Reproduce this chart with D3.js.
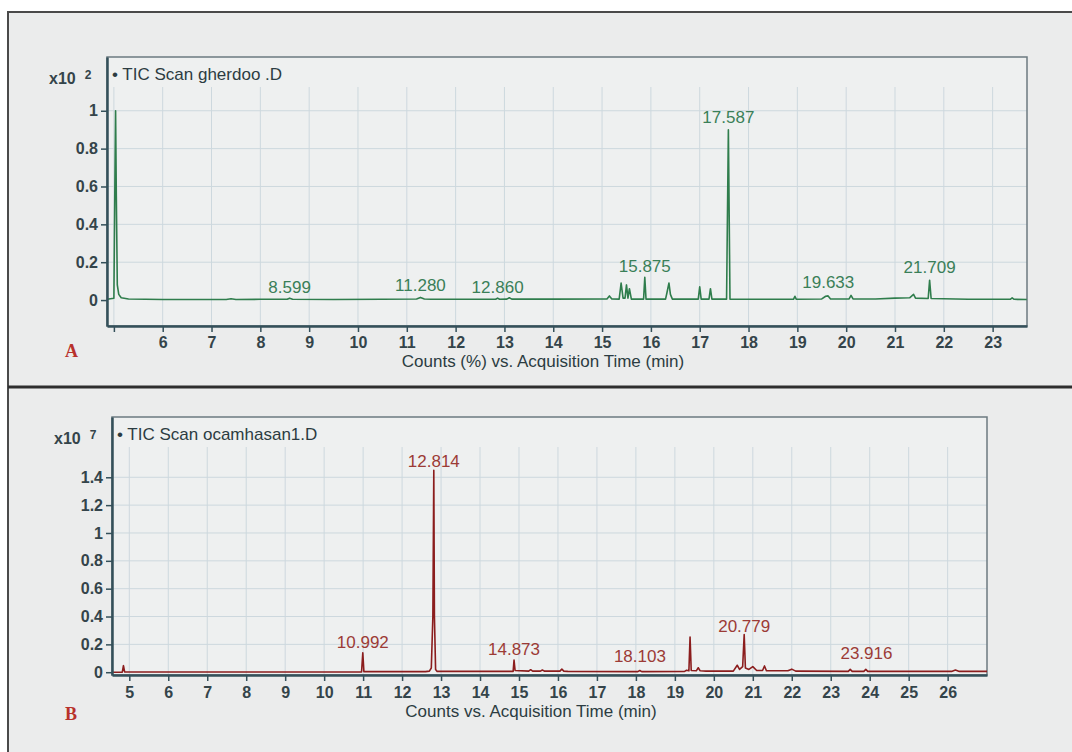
<!DOCTYPE html>
<html lang="en">
<head>
  <meta charset="UTF-8">
  <title>TIC Scan chromatograms</title>
  <script src="https://d3js.org/d3.v7.min.js"></script>
  <style>
    body { margin: 0; background: #fff; }
    svg { display: block; font-family: "Liberation Sans", Arial, sans-serif; }
    .grid line { stroke: #cdd8de; stroke-width: 1; }
    .axis path, .axis line { stroke: #34505a; }
  </style>
</head>
<body>
<svg width="1072" height="752"></svg>
<script>
// Panel A - TIC Scan gherdoo .D (x10^2)
const topTime = [4.86, 5.00, 5.02, 5.035, 5.05, 5.07, 5.10, 5.15, 5.30, 6.00, 7.30, 7.40, 7.50, 8.00, 8.55, 8.60, 8.66, 9.50,
  10.50, 11.20, 11.28, 11.36, 11.50, 12.30, 12.82, 12.86, 12.90, 13.05, 13.10, 13.15, 14.00, 15.10, 15.15, 15.20,
  15.35, 15.39, 15.43, 15.47, 15.50, 15.53, 15.56, 15.60, 15.85, 15.875, 15.90, 16.30, 16.33, 16.37, 16.40, 16.44,
  16.97, 17.00, 17.03, 17.19, 17.22, 17.25, 17.55, 17.587, 17.62, 18.92, 18.95, 18.98, 19.50, 19.58, 19.63, 19.68,
  20.06, 20.10, 20.14, 20.60, 21.00, 21.30, 21.38, 21.42, 21.68, 21.709, 21.74, 22.50, 23.36, 23.40, 23.44, 23.70];
const topCounts = [0.004, 0.010, 0.60, 1.00, 0.55, 0.08, 0.030, 0.012, 0.006, 0.003, 0.003, 0.007, 0.003, 0.004, 0.004, 0.010, 0.004, 0.003,
  0.004, 0.006, 0.014, 0.006, 0.004, 0.004, 0.004, 0.010, 0.004, 0.005, 0.012, 0.005, 0.005, 0.006, 0.022, 0.006,
  0.005, 0.090, 0.010, 0.010, 0.080, 0.010, 0.060, 0.005, 0.005, 0.120, 0.005, 0.005, 0.040, 0.090, 0.030, 0.005,
  0.005, 0.070, 0.005, 0.005, 0.060, 0.005, 0.005, 0.900, 0.005, 0.004, 0.020, 0.004, 0.006, 0.020, 0.022, 0.006,
  0.006, 0.025, 0.006, 0.006, 0.010, 0.012, 0.030, 0.010, 0.008, 0.105, 0.008, 0.004, 0.004, 0.012, 0.004, 0.003];
const topLabelTimes = [8.599, 11.280, 12.860, 15.875, 17.587, 19.633, 21.709];
const topLabelLevels = [0.037, 0.048, 0.037, 0.148, 0.935, 0.063, 0.143];
const topXTicks = d3.range(5, 24);
const topYTicks = [0, 0.2, 0.4, 0.6, 0.8, 1];

// Panel B - TIC Scan ocamhasan1.D (x10^7)
const botTime = [4.56, 4.82, 4.85, 4.88, 10.96, 10.992, 11.02, 12.60, 12.70, 12.75, 12.79, 12.814, 12.83, 12.86, 12.90,
  14.00, 14.85, 14.873, 14.90, 15.25, 15.30, 15.35, 15.55, 15.60, 15.65, 16.05, 16.10, 16.15, 16.25, 18.05, 18.10,
  18.15, 19.25, 19.30, 19.36, 19.39, 19.42, 19.55, 19.60, 19.65, 19.80, 20.50, 20.60, 20.66, 20.74, 20.779, 20.81,
  20.90, 21.00, 21.10, 21.25, 21.30, 21.35, 21.90, 22.00, 22.10, 23.45, 23.50, 23.55, 23.85, 23.90, 23.95, 26.10,
  26.20, 26.30, 27.01];
const botCounts = [0.000, 0.000, 0.047, 0.002, 0.002, 0.140, 0.004, 0.004, 0.008, 0.030, 0.400, 1.450, 0.400, 0.020, 0.006,
  0.006, 0.006, 0.088, 0.012, 0.008, 0.018, 0.008, 0.008, 0.016, 0.008, 0.008, 0.022, 0.008, 0.006, 0.004, 0.012,
  0.004, 0.006, 0.014, 0.010, 0.253, 0.012, 0.010, 0.032, 0.010, 0.008, 0.008, 0.050, 0.020, 0.040, 0.270, 0.030,
  0.020, 0.040, 0.012, 0.012, 0.045, 0.010, 0.010, 0.022, 0.008, 0.006, 0.020, 0.006, 0.006, 0.020, 0.006, 0.006,
  0.016, 0.006, 0.006];
const botLabelTimes = [10.992, 12.814, 14.873, 18.103, 20.779, 23.916];
const botLabelLevels = [0.174, 1.474, 0.124, 0.074, 0.289, 0.095];
const botXTicks = d3.range(5, 27);
const botYTicks = [0, 0.2, 0.4, 0.6, 0.8, 1, 1.2, 1.4];

const svg = d3.select('svg');

// outer frame + divider
svg.append('rect').attr('x', 8).attr('y', 12).attr('width', 1070).attr('height', 750)
  .attr('fill', '#ebecec').attr('stroke', '#4a4a4a').attr('stroke-width', 2);
svg.append('line').attr('x1', 8).attr('x2', 1072).attr('y1', 387).attr('y2', 387)
  .attr('stroke', '#2e2e2e').attr('stroke-width', 3);

function tickText(sel) {
  sel.selectAll('text')
    .style('font-size', '16px').style('font-weight', 'bold')
    .style('font-family', '"Liberation Sans", Arial, sans-serif')
    .attr('fill', '#34444a');
}

function panel(cfg) {
  const x = d3.scaleLinear().domain(cfg.xDomain).range([cfg.left, cfg.right]);
  const y = d3.scaleLinear().domain(cfg.yDomain).range([cfg.bottom, cfg.top]);
  const g = svg.append('g');

  g.append('rect').attr('x', cfg.left).attr('y', cfg.top)
    .attr('width', cfg.right - cfg.left).attr('height', cfg.bottom - cfg.top)
    .attr('fill', '#eef0f0');

  // grid
  const grid = g.append('g').attr('class', 'grid');
  grid.selectAll('.v').data(cfg.xTicks).join('line')
    .attr('x1', d => x(d)).attr('x2', d => x(d))
    .attr('y1', cfg.top + 30).attr('y2', cfg.bottom);
  grid.selectAll('.h').data(cfg.yTicks.filter(d => d > 0)).join('line')
    .attr('x1', cfg.left).attr('x2', cfg.right)
    .attr('y1', d => y(d)).attr('y2', d => y(d));

  // box
  g.append('rect').attr('x', cfg.left).attr('y', cfg.top)
    .attr('width', cfg.right - cfg.left).attr('height', cfg.bottom - cfg.top)
    .attr('fill', 'none').attr('stroke', '#6c7a80').attr('stroke-width', 1.5);

  // trace
  const pts = cfg.time.map((t, i) => [t, cfg.counts[i]]);
  g.append('path').datum(pts)
    .attr('fill', 'none').attr('stroke', cfg.color).attr('stroke-width', 1.6)
    .attr('stroke-linejoin', 'round')
    .attr('d', d3.line().x(d => x(d[0])).y(d => y(d[1])));

  // axes
  const xa = g.append('g').attr('class', 'axis')
    .attr('transform', `translate(0,${cfg.bottom})`)
    .call(d3.axisBottom(x).tickValues(cfg.xTicks).tickSize(6).tickSizeOuter(0)
      .tickFormat(d => cfg.hideX.includes(d) ? '' : d));
  xa.select('.domain').attr('stroke-width', 2.5);
  xa.selectAll('.tick line').attr('stroke-width', 1.5);
  tickText(xa);
  xa.selectAll('text').attr('dy', cfg.tickDy);

  const ya = g.append('g').attr('class', 'axis')
    .attr('transform', `translate(${cfg.left},0)`)
    .call(d3.axisLeft(y).tickValues(cfg.yTicks).tickSize(6).tickSizeOuter(0)
      .tickFormat(d3.format('~g')));
  ya.select('.domain').attr('stroke-width', 2.5);
  ya.selectAll('.tick line').attr('stroke-width', 1.5);
  tickText(ya);

  // peak labels
  g.selectAll('.pk').data(cfg.labelTimes).join('text')
    .attr('x', d => x(d)).attr('y', (d, i) => y(cfg.labelLevels[i]))
    .attr('text-anchor', 'middle').attr('font-size', 17)
    .attr('fill', cfg.labelColor)
    .text(d => d.toFixed(3));

  // scan title
  g.append('text').attr('x', cfg.left + 5).attr('y', cfg.top + 23)
    .attr('font-size', 17).attr('fill', '#2c3c42')
    .text('\u2022 ' + cfg.title);

  // multiplier
  const m = g.append('text').attr('x', cfg.left - 58).attr('y', cfg.top + 27)
    .attr('font-size', 16).attr('font-weight', 'bold').attr('fill', '#34444a');
  m.append('tspan').text('x10');
  m.append('tspan').attr('dx', 9).attr('dy', -5).attr('font-size', 12).text(cfg.exp);

  // axis title
  g.append('text').attr('x', cfg.titleX).attr('y', cfg.bottom + cfg.titleDy)
    .attr('text-anchor', 'middle').attr('font-size', 17).attr('fill', '#2c3c42')
    .text(cfg.xTitle);

  // panel letter
  g.append('text').attr('x', 65).attr('y', cfg.letterY)
    .attr('font-family', '"Liberation Serif", "DejaVu Serif", serif')
    .attr('font-weight', 'bold').attr('font-size', 18).attr('fill', '#b8322c')
    .text(cfg.letter);
}

panel({
  left: 107, right: 1027, top: 57, bottom: 326,
  xDomain: [4.859, 23.704], yDomain: [-0.137, 1.284],
  xTicks: topXTicks, yTicks: topYTicks, hideX: [5],
  time: topTime, counts: topCounts, color: '#2f7d4c', labelColor: '#3a7f58',
  labelTimes: topLabelTimes, labelLevels: topLabelLevels,
  title: 'TIC Scan gherdoo .D', exp: '2',
  xTitle: 'Counts (%) vs. Acquisition Time (min)', titleX: 543, titleDy: 41, tickDy: '0.8em',
  letter: 'A', letterY: 357
});

panel({
  left: 112, right: 987, top: 417, bottom: 675,
  xDomain: [4.556, 27.01], yDomain: [-0.02, 1.833],
  xTicks: botXTicks, yTicks: botYTicks, hideX: [],
  time: botTime, counts: botCounts, color: '#8b1d1d', labelColor: '#9c3b36',
  labelTimes: botLabelTimes, labelLevels: botLabelLevels,
  title: 'TIC Scan ocamhasan1.D', exp: '7',
  xTitle: 'Counts vs. Acquisition Time (min)', titleX: 531, titleDy: 42, tickDy: '0.87em',
  letter: 'B', letterY: 720
});
</script>
</body>
</html>
